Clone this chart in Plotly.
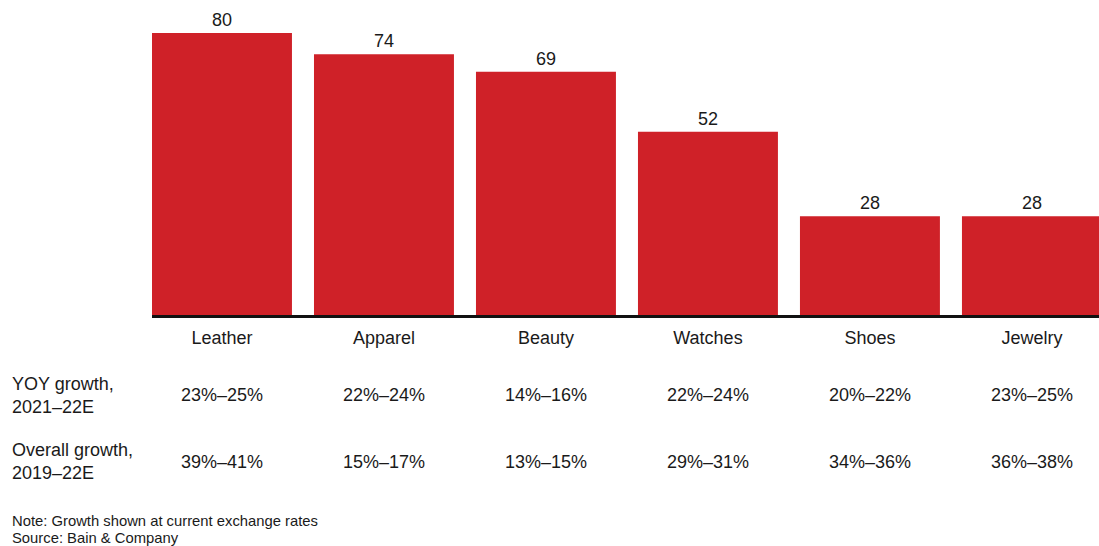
import plotly.graph_objects as go

categories = ["Leather", "Apparel", "Beauty", "Watches", "Shoes", "Jewelry"]
values = [80, 74, 69, 52, 28, 28]
yoy_growth = ["23%–25%", "22%–24%", "14%–16%", "22%–24%", "20%–22%", "23%–25%"]
overall_growth = ["39%–41%", "15%–17%", "13%–15%", "29%–31%", "34%–36%", "36%–38%"]
row_labels = ["YOY growth,<br>2021–22E", "Overall growth,<br>2019–22E"]
note_lines = ["Note: Growth shown at current exchange rates", "Source: Bain & Company"]

W, H = 1099, 546
PLOT_TOP, PLOT_BOTTOM = 0, 315
FONT = "Liberation Sans, Arial, sans-serif"
TXT = "#1a1a1a"
RED = "#CF2128"
FS = 18


def py(p):
    # convert a pixel row to paper y coordinate
    return 1 - (p - PLOT_TOP) / (PLOT_BOTTOM - PLOT_TOP)


plot_left = 152
plot_w = W - plot_left


def px(p):
    return (p - plot_left) / plot_w


fig = go.Figure()
fig.add_trace(go.Bar(
    x=categories, y=values, marker_color=RED, marker_line_width=0,
    text=[str(v) for v in values], textposition="outside",
    textfont=dict(size=FS, color=TXT, family=FONT), cliponaxis=False,
))

annotations = []
for cat, yv, ov in zip(categories, yoy_growth, overall_growth):
    annotations.append(dict(x=cat, y=py(395), xref="x", yref="paper", text=yv,
                            showarrow=False, xanchor="center", yanchor="middle",
                            font=dict(size=FS, color=TXT, family=FONT)))
    annotations.append(dict(x=cat, y=py(462), xref="x", yref="paper", text=ov,
                            showarrow=False, xanchor="center", yanchor="middle",
                            font=dict(size=FS, color=TXT, family=FONT)))

for lbl, yp in zip(row_labels, [395, 462]):
    annotations.append(dict(x=px(10), y=py(yp), xref="paper", yref="paper", text=lbl,
                            showarrow=False, xanchor="left", yanchor="middle", align="left",
                            font=dict(size=FS, color=TXT, family=FONT)))

for line, yp in zip(note_lines, [521, 538]):
    annotations.append(dict(x=px(10), y=py(yp), xref="paper", yref="paper", text=line,
                            showarrow=False, xanchor="left", yanchor="middle", align="left",
                            font=dict(size=14.8, color=TXT, family=FONT)))

fig.update_layout(
    width=W, height=H,
    margin=dict(l=plot_left, r=0, t=PLOT_TOP, b=H - PLOT_BOTTOM, pad=0),
    paper_bgcolor="white", plot_bgcolor="white",
    showlegend=False, bargap=0.136,
    annotations=annotations,
    font=dict(family=FONT, color=TXT),
    xaxis=dict(range=[-0.432, 5.414], showline=True, linecolor="#111111", linewidth=3,
               ticks="", showgrid=False, zeroline=False,
               tickfont=dict(size=FS, color=TXT, family=FONT), ticklabelstandoff=4),
    yaxis=dict(range=[0, 315 / 3.525], visible=False, showgrid=False, zeroline=False),
)

fig.write_html("out.html")
